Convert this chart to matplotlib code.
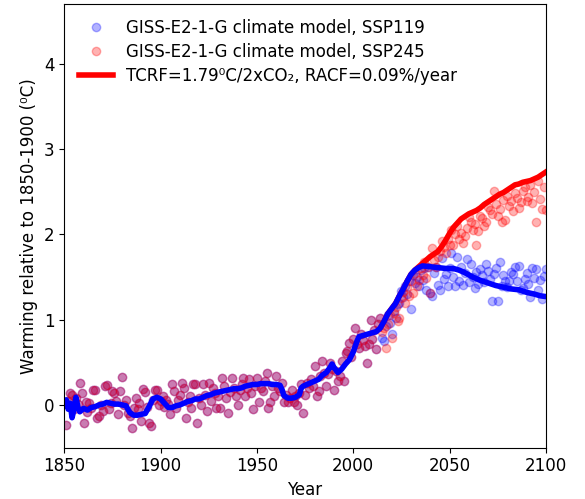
import numpy as np
import matplotlib
matplotlib.use("Agg")
import matplotlib.pyplot as plt

# annual model output, historical part shared by both scenarios (1850-2014)
hist_years = np.arange(1850, 2015)
hist_vals = [
    0.02, -0.23, 0.05, 0.14, 0.12, -0.05, 0.08, 0.01, 0.26, 0.14,
    -0.21, 0.04, -0.08, 0.02, -0.03, 0.18, 0.18, -0.15, -0.13, 0.00,
    -0.07, 0.22, 0.23, -0.05, 0.02, 0.16, 0.14, 0.05, -0.11, 0.16,
    0.33, 0.00, 0.06, -0.09, -0.13, -0.27, -0.04, 0.08, -0.05, 0.02,
    -0.19, 0.19, 0.15, -0.02, -0.21, -0.25, 0.06, 0.18, 0.18, 0.00,
    0.05, 0.10, -0.02, 0.06, 0.01, -0.11, 0.24, 0.16, -0.03, 0.06,
    0.12, 0.26, 0.20, -0.15, 0.04, 0.10, -0.04, 0.24, 0.24, -0.21,
    0.08, 0.00, 0.24, 0.12, -0.07, 0.26, 0.05, 0.20, 0.14, -0.03,
    0.10, -0.03, 0.32, 0.22, 0.08, -0.09, 0.15, 0.32, 0.20, 0.10,
    0.00, 0.18, 0.25, 0.32, 0.10, 0.20, 0.30, 0.14, -0.05, 0.22,
    0.32, 0.03, 0.20, 0.16, 0.28, 0.38, -0.03, 0.03, 0.22, 0.10,
    0.34, 0.20, 0.16, 0.26, 0.04, 0.12, 0.03, 0.08, 0.18, 0.04,
    0.10, 0.00, 0.14, 0.24, -0.09, 0.12, 0.26, 0.20, 0.30, 0.22,
    0.46, 0.10, 0.16, 0.34, 0.51, 0.38, 0.22, 0.36, 0.49, 0.42,
    0.18, 0.40, 0.28, 0.34, 0.51, 0.28, 0.61, 0.63, 0.73, 0.56,
    0.77, 0.90, 0.72, 0.67, 0.83, 0.76, 0.69, 0.49, 0.71, 1.00,
    0.77, 0.88, 0.65, 0.95, 1.02,
]

# scenario part (2015-2100)
fut_years = np.arange(2015, 2101)
ssp119_vals = [
    0.79, 0.75, 0.92, 1.05, 0.96, 0.83, 1.10, 1.02, 1.18, 1.20,
    1.33, 1.27, 1.40, 1.30, 1.45, 1.13, 1.52, 1.43, 1.50, 1.39,
    1.58, 1.46, 1.60, 1.35, 1.62, 1.31, 1.28, 1.55, 1.62, 1.41,
    1.35, 1.72, 1.48, 1.53, 1.39, 1.60, 1.78, 1.50, 1.39, 1.74,
    1.45, 1.62, 1.41, 1.55, 1.71, 1.44, 1.65, 1.50, 1.37, 1.56,
    1.42, 1.59, 1.52, 1.44, 1.65, 1.57, 1.48, 1.22, 1.53, 1.60,
    1.22, 1.67, 1.40, 1.52, 1.45, 1.38, 1.45, 1.56, 1.53, 1.62,
    1.45, 1.63, 1.35, 1.37, 1.48, 1.55, 1.42, 1.26, 1.60, 1.49,
    1.59, 1.35, 1.47, 1.24, 1.51, 1.59,
]
ssp245_vals = [
    0.85, 0.90, 0.67, 0.95, 1.05, 0.79, 1.08, 1.15, 0.98, 1.02,
    1.25, 1.32, 1.20, 1.38, 1.28, 1.45, 1.31, 1.55, 1.39, 1.47,
    1.60, 1.52, 1.68, 1.49, 1.62, 1.31, 1.84, 1.70, 1.62, 1.74,
    1.80, 1.92, 1.85, 1.78, 1.95, 1.88, 2.05, 1.88, 2.00, 2.10,
    1.94, 2.02, 1.90, 1.98, 2.08, 2.20, 2.15, 2.05, 2.12, 1.88,
    2.04, 2.22, 2.19, 2.10, 2.15, 2.32, 2.29, 2.24, 2.51, 2.36,
    2.21, 2.30, 2.15, 2.40, 2.17, 2.45, 2.33, 2.39, 2.27, 2.49,
    2.42, 2.31, 2.38, 2.51, 2.56, 2.39, 2.44, 2.58, 2.37, 2.50,
    2.15, 2.62, 2.41, 2.30, 2.55, 2.29,
]

# simple model fit, SSP119 forcing (blue)
fit119_years = [
    1850, 1851, 1852, 1853, 1854, 1855, 1856, 1857, 1858, 1860,
    1862, 1864, 1866, 1868, 1870, 1872, 1874, 1876, 1878, 1880,
    1882, 1884, 1886, 1888, 1890, 1892, 1894, 1896, 1898, 1900,
    1902, 1904, 1906, 1908, 1910, 1912, 1914, 1916, 1918, 1920,
    1922, 1924, 1926, 1928, 1930, 1932, 1934, 1936, 1938, 1940,
    1942, 1944, 1946, 1948, 1950, 1952, 1954, 1956, 1958, 1960,
    1962, 1963, 1964, 1966, 1968, 1970, 1972, 1973, 1974, 1976,
    1978, 1980, 1982, 1984, 1986, 1988, 1989, 1990, 1992, 1994,
    1996, 1998, 2000, 2002, 2003, 2006, 2009, 2012, 2014, 2016,
    2018, 2020, 2022, 2024, 2026, 2028, 2030, 2032, 2034, 2036,
    2040, 2044, 2048, 2052, 2055, 2058, 2062, 2066, 2070, 2074,
    2078, 2082, 2086, 2090, 2094, 2097, 2100,
]
fit119_vals = [
    0.00, 0.06, -0.05, 0.02, -0.15, -0.05, 0.09, -0.02, -0.08, -0.04,
    -0.06, -0.03, -0.02, 0.00, 0.01, 0.03, 0.02, 0.01, 0.01, 0.00,
    -0.01, -0.09, -0.12, -0.12, -0.11, -0.10, -0.02, 0.07, 0.09, 0.07,
    0.02, -0.03, -0.03, -0.01, 0.00, 0.02, 0.04, 0.05, 0.07, 0.07,
    0.09, 0.11, 0.12, 0.14, 0.15, 0.16, 0.17, 0.18, 0.19, 0.19,
    0.20, 0.22, 0.23, 0.24, 0.24, 0.25, 0.25, 0.25, 0.24, 0.24,
    0.23, 0.18, 0.11, 0.08, 0.08, 0.09, 0.12, 0.20, 0.22, 0.24,
    0.26, 0.28, 0.30, 0.35, 0.38, 0.44, 0.48, 0.44, 0.38, 0.42,
    0.48, 0.53, 0.62, 0.75, 0.80, 0.82, 0.84, 0.86, 0.90, 0.98,
    1.07, 1.13, 1.19, 1.28, 1.36, 1.45, 1.53, 1.58, 1.61, 1.63,
    1.62, 1.61, 1.60, 1.60, 1.58, 1.55, 1.50, 1.46, 1.43, 1.40,
    1.38, 1.36, 1.35, 1.32, 1.30, 1.28, 1.27,
]

# simple model fit, SSP245 forcing (red)
fit245_years = [
    2014, 2016, 2018, 2020, 2022, 2024, 2026, 2028, 2030, 2032,
    2034, 2036, 2038, 2040, 2042, 2044, 2046, 2048, 2050, 2052,
    2054, 2056, 2058, 2060, 2062, 2064, 2066, 2068, 2070, 2072,
    2074, 2076, 2078, 2080, 2082, 2084, 2086, 2088, 2090, 2092,
    2094, 2096, 2098, 2100,
]
fit245_vals = [
    0.90, 0.98, 1.07, 1.13, 1.19, 1.28, 1.36, 1.45, 1.53, 1.58,
    1.62, 1.66, 1.70, 1.74, 1.77, 1.80, 1.86, 1.93, 2.01, 2.08,
    2.13, 2.18, 2.21, 2.24, 2.26, 2.28, 2.31, 2.35, 2.38, 2.41,
    2.44, 2.47, 2.49, 2.52, 2.55, 2.58, 2.59, 2.61, 2.62, 2.63,
    2.65, 2.67, 2.70, 2.73,
]

years = np.concatenate([hist_years, fut_years])
giss119 = np.concatenate([hist_vals, ssp119_vals])
giss245 = np.concatenate([hist_vals, ssp245_vals])

fig = plt.figure(figsize=(5.85, 4.99), dpi=100)
ax = fig.add_axes([0.110, 0.103, 0.823, 0.889])

ax.plot(years, giss119, 'o', color='blue', alpha=0.3, markersize=6,
        label='GISS-E2-1-G climate model, SSP119')
ax.plot(years, giss245, 'o', color='red', alpha=0.3, markersize=6,
        label='GISS-E2-1-G climate model, SSP245')
ax.plot(fit245_years, fit245_vals, '-', color='red', linewidth=4,
        label='TCRF=1.79⁰C/2xCO₂, RACF=0.09%/year')
ax.plot(fit119_years, fit119_vals, '-', color='blue', linewidth=4)

ax.set_xlim(1850, 2100)
ax.set_ylim(-0.5, 4.7)
ax.set_xticks([1850, 1900, 1950, 2000, 2050, 2100])
ax.set_yticks([0, 1, 2, 3, 4])
ax.tick_params(labelsize=12)
ax.set_xlabel('Year', fontsize=12)
ax.set_ylabel('Warming relative to 1850-1900 (⁰C)', fontsize=12)
ax.legend(loc='upper left', frameon=False, fontsize=12, labelspacing=0.35)

fig.savefig('out.png', dpi=100)
